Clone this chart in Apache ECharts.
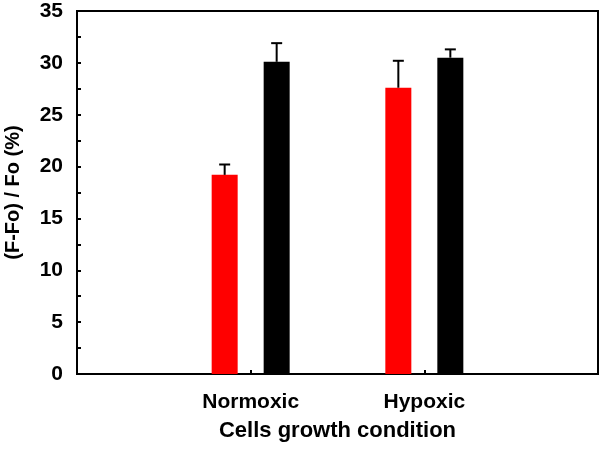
<!DOCTYPE html>
<html>
<head>
<meta charset="utf-8">
<script src="https://cdn.jsdelivr.net/npm/echarts@6/dist/echarts.min.js"></script>
<style>html,body{margin:0;padding:0;background:#fff;}#c{width:602px;height:454px;}</style>
</head>
<body>
<div id="c"></div>
<script>
const categories = ['Normoxic', 'Hypoxic'];
const redValues = [19.2, 27.6];
const redErrors = [1.0, 2.6];
const blackValues = [30.1, 30.5];
const blackErrors = [1.8, 0.8];
const yTicks = [0, 5, 10, 15, 20, 25, 30, 35];

const FONT = '"Liberation Sans", Arial, sans-serif';

function makeSeries(name, vals, errs, color, offset) {
  return {
    name: name,
    type: 'custom',
    clip: false,
    data: vals.map((v, i) => [i + 1, v, errs[i]]),
    renderItem: function (params, api) {
      const x = api.value(0), v = api.value(1), e = api.value(2);
      const base = api.coord([x, 0]);
      const top = api.coord([x, v]);
      const et = api.coord([x, v + e]);
      const cx = base[0] + offset;
      const w = 26;
      return {
        type: 'group',
        children: [
          { type: 'rect', shape: { x: cx - w / 2, y: top[1], width: w, height: base[1] - top[1] }, style: { fill: color } },
          { type: 'line', shape: { x1: cx, y1: top[1], x2: cx, y2: et[1] }, style: { stroke: '#000', lineWidth: 2 } },
          { type: 'line', shape: { x1: cx - 5.5, y1: et[1], x2: cx + 5.5, y2: et[1] }, style: { stroke: '#000', lineWidth: 2 } }
        ]
      };
    }
  };
}

const chart = echarts.init(document.getElementById('c'), null, { renderer: 'canvas' });
chart.setOption({
  animation: false,
  backgroundColor: '#fff',
  grid: { left: 77, top: 11, right: 4, bottom: 80, show: true, borderColor: '#000', borderWidth: 2, backgroundColor: 'transparent', containLabel: false, outerBoundsMode: 'none' },
  xAxis: {
    type: 'value', min: 0, max: 3, interval: 1,
    axisLine: { show: true, lineStyle: { color: '#000', width: 2 } },
    axisTick: { show: true, inside: true, length: 4, lineStyle: { color: '#000', width: 2 } },
    splitLine: { show: false },
    axisLabel: {
      formatter: v => categories[v - 1] || '',
      color: '#000', fontSize: 21, fontWeight: 'bold', fontFamily: FONT, margin: 18
    },
    name: 'Cells growth condition', nameLocation: 'middle', nameGap: 46,
    nameTextStyle: { color: '#000', fontSize: 22, fontWeight: 'bold', fontFamily: FONT }
  },
  yAxis: {
    type: 'value', min: yTicks[0], max: yTicks[yTicks.length - 1], interval: yTicks[1] - yTicks[0],
    axisLine: { show: true, lineStyle: { color: '#000', width: 2 } },
    axisTick: { show: true, inside: true, length: 4, lineStyle: { color: '#000', width: 2 } },
    minorTick: { show: true, splitNumber: 2, length: 4, lineStyle: { color: '#000', width: 2 } },
    splitLine: { show: false },
    axisLabel: { color: '#000', fontSize: 21, fontWeight: 'bold', fontFamily: FONT, margin: 14 },
    name: '(F-Fo) / Fo (%)', nameLocation: 'middle', nameGap: 54, nameRotate: 90,
    nameTextStyle: { color: '#000', fontSize: 20, fontWeight: 'bold', fontFamily: FONT }
  },
  series: [
    makeSeries('red', redValues, redErrors, '#ff0000', -26),
    makeSeries('black', blackValues, blackErrors, '#000000', 26)
  ]
});
</script>
</body>
</html>
